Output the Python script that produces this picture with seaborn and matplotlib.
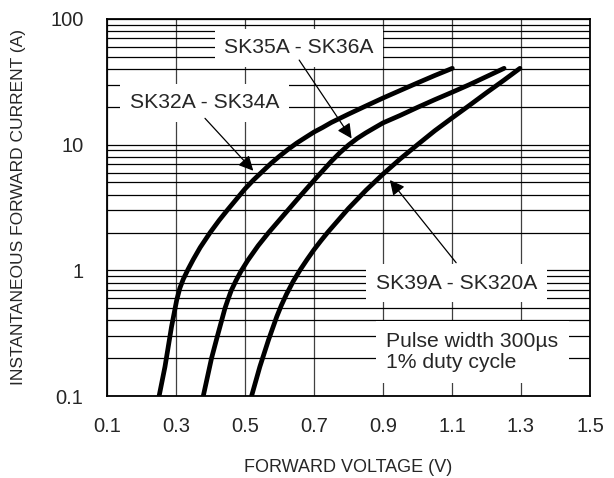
import numpy as np
import pandas as pd
import matplotlib
matplotlib.use('Agg')
import matplotlib.pyplot as plt
import seaborn as sns
from matplotlib.ticker import FixedLocator, FuncFormatter, LogLocator, NullFormatter

# forward voltage (V) vs instantaneous forward current (A)
v_sk32 = [0.251, 0.268, 0.287, 0.302, 0.311, 0.321, 0.335, 0.350, 0.370, 0.399, 0.425, 0.449,
          0.475, 0.500, 0.525, 0.550, 0.575, 0.600, 0.625, 0.650, 0.675, 0.700, 0.725, 0.750,
          0.800, 0.850, 0.900, 0.950, 1.000, 1.050, 1.101]
i_sk32 = [0.1, 0.171, 0.356, 0.58, 0.72, 0.85, 1.02, 1.22, 1.52, 2.0, 2.5, 3.02,
          3.68, 4.45, 5.25, 6.1, 7.08, 8.1, 9.18, 10.3, 11.4, 12.6, 13.7, 15.0,
          17.5, 20.3, 23.5, 27.0, 31.0, 35.5, 40.5]

v_sk35 = [0.379, 0.403, 0.420, 0.442, 0.451, 0.460, 0.474, 0.488, 0.508, 0.538, 0.568, 0.608,
          0.658, 0.708, 0.731, 0.750, 0.775, 0.800, 0.825, 0.850, 0.875, 0.900, 0.950, 1.000,
          1.050, 1.100, 1.150, 1.200, 1.251]
i_sk35 = [0.1, 0.2, 0.3, 0.5, 0.59, 0.69, 0.83, 0.98, 1.2, 1.57, 1.99, 2.67,
          3.85, 5.5, 6.45, 7.36, 8.63, 9.93, 11.2, 12.4, 13.6, 14.9, 17.1, 19.8,
          22.8, 26.1, 30.0, 34.8, 40.5]

v_sk39 = [0.519, 0.543, 0.568, 0.592, 0.605, 0.620, 0.640, 0.660, 0.680, 0.700, 0.720, 0.740,
          0.800, 0.850, 0.900, 0.950, 1.000, 1.050, 1.100, 1.150, 1.200, 1.250, 1.297]
i_sk39 = [0.1, 0.171, 0.279, 0.428, 0.524, 0.644, 0.82, 1.01, 1.22, 1.46, 1.72, 2.01,
          3.11, 4.32, 5.83, 7.71, 10.0, 12.9, 16.3, 20.5, 25.9, 32.5, 40.5]

x_ticks = [0.1, 0.3, 0.5, 0.7, 0.9, 1.1, 1.3, 1.5]
y_ticks = [0.1, 1, 10, 100]

sns.set_style('white')
plt.rcParams['font.family'] = ['Liberation Sans', 'DejaVu Sans']

df = pd.concat([
    pd.DataFrame({'V': v_sk32, 'I': i_sk32, 'part': 'SK32A - SK34A'}),
    pd.DataFrame({'V': v_sk35, 'I': i_sk35, 'part': 'SK35A - SK36A'}),
    pd.DataFrame({'V': v_sk39, 'I': i_sk39, 'part': 'SK39A - SK320A'}),
])

fig = plt.figure(figsize=(6.14, 4.78), dpi=100)
ax = fig.add_axes([0.1743, 0.1715, 0.7866, 0.7888])

for part, grp in df.groupby('part', sort=False):
    sns.lineplot(data=grp, x='V', y='I', ax=ax, color='black', lw=3.4,
                 sort=False, estimator=None, legend=False, zorder=4,
                 solid_capstyle='round', solid_joinstyle='round')

ax.set_yscale('log')
ax.set_xlim(0.1, 1.5)
ax.set_ylim(0.1, 100)

ax.xaxis.set_major_locator(FixedLocator(x_ticks))
ax.xaxis.set_major_formatter(FuncFormatter(lambda v, p: f'{v:.1f}'))
ax.yaxis.set_major_locator(FixedLocator(y_ticks))
ax.yaxis.set_major_formatter(FuncFormatter(lambda v, p: f'{v:g}'))
ax.yaxis.set_minor_locator(LogLocator(base=10, subs=np.arange(2, 10)))
ax.yaxis.set_minor_formatter(NullFormatter())

ax.set_axisbelow(True)
ax.grid(True, axis='y', which='both', color='black', lw=0.9)
ax.grid(True, axis='x', which='major', color='#404040', lw=0.9)

ax.tick_params(axis='both', which='both', length=0, labelsize=14.5)
ax.tick_params(axis='x', pad=15)
ax.tick_params(axis='y', pad=17)

for s in ax.spines.values():
    s.set_color('black')
    s.set_linewidth(1.3)
    s.set_zorder(5)

ax.set_xlabel('FORWARD VOLTAGE (V)', fontsize=13, labelpad=17)
ax.set_ylabel('INSTANTANEOUS FORWARD CURRENT (A)', fontsize=12.5, labelpad=17)

box = dict(boxstyle='square,pad=0.45', facecolor='white', edgecolor='none')
arrow = dict(arrowstyle='-|>', color='black', lw=0.9, mutation_scale=22,
             shrinkA=0, shrinkB=0)

ax.text(0.657, 59.2, 'SK35A - SK36A', ha='center', va='center', fontsize=15.2,
        bbox=box, zorder=3)
ax.annotate('', xy=(0.809, 11.2), xytext=(0.657, 47.1), arrowprops=arrow, zorder=3)

ax.text(0.383, 21.6, 'SK32A - SK34A', ha='center', va='center', fontsize=15.2,
        bbox=box, zorder=3)
ax.annotate('', xy=(0.524, 6.2), xytext=(0.384, 16.2), arrowprops=arrow, zorder=3)

ax.text(1.113, 0.79, 'SK39A - SK320A', ha='center', va='center', fontsize=15.2,
        bbox=box, zorder=3)
ax.annotate('', xy=(0.920, 5.23), xytext=(1.112, 1.15), arrowprops=arrow, zorder=3)

ax.text(0.91, 0.224, 'Pulse width 300\u00b5s\n1% duty cycle', ha='left', va='center',
        fontsize=15.2, linespacing=1.15, zorder=3,
        bbox=dict(boxstyle='square,pad=0.5', facecolor='white', edgecolor='none'))

fig.savefig('out.png', dpi=100)
